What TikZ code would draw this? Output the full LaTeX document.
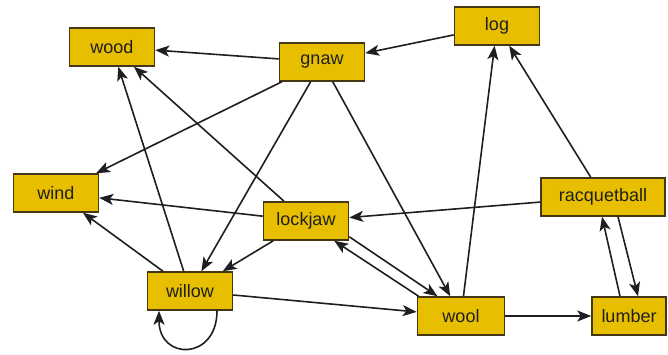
\documentclass[tikz,border=0pt]{standalone}
\usepackage{fontspec}
\setmainfont{Liberation Sans}
\usetikzlibrary{arrows.meta,calc}
\definecolor{boxfill}{RGB}{232,191,0}
\definecolor{boxline}{RGB}{70,55,20}
\definecolor{edgecol}{RGB}{30,30,35}
\tikzset{
  box/.style={draw=boxline,line width=1.5pt,fill=boxfill,rectangle,minimum height=38pt,
    minimum width=85pt,inner xsep=2pt,font=\fontsize{18}{20}\selectfont,text=black!88},
  edge/.style={draw=edgecol,line width=1.6pt,-{Stealth[length=14pt,width=11pt,inset=3.5pt]}},
}
\begin{document}
\begin{tikzpicture}[x=1pt,y=-1pt]
\useasboundingbox (0,0) rectangle (668,354);
\node[box] (wood) at (112,47) {wood};
\node[box] (gnaw) at (322,62) {gnaw};
\node[box] (log) at (497,26) {log};
\node[box] (wind) at (56,193) {wind};
\node[box] (lockjaw) at (306,221) {lockjaw};
\node[box,minimum width=124pt] (racq) at (603,197) {racquetball};
\node[box] (willow) at (190,291) {willow};
\node[box,minimum width=87pt] (wool) at (461,316) {wool};
\node[box,minimum width=74pt] (lumber) at (629,316) {lumber};

\draw[edge] (gnaw) -- (wood);
\draw[edge] (log) -- (gnaw);
\draw[edge] (gnaw) -- (wind);
\draw[edge] (gnaw) -- (willow);
\draw[edge] (gnaw) -- (wool);
\draw[edge] (willow) -- (wood);
\draw[edge] (lockjaw) -- (wood);
\draw[edge] (lockjaw) -- (wind);
\draw[edge] (willow) -- (wind);
\draw[edge] (lockjaw) -- (willow);
\draw[edge] (lockjaw.-20) -- (wool.140);
\draw[edge] (wool.155) -- (lockjaw.-35);
\draw[edge] (racq) -- (lockjaw);
\draw[edge] (racq) -- (log);
\draw[edge] (wool) -- (log);
\draw[edge] (willow) -- (wool);
\draw[edge] (wool) -- (lumber);
\draw[edge] ([xshift=-9pt]lumber.north) -- ([xshift=-1pt]racq.south);
\draw[edge] ([xshift=15pt]racq.south) -- ([xshift=9pt]lumber.north);
\draw[edge] ([xshift=27pt]willow.south) .. controls +(0,50) and +(0,50) .. ([xshift=-31pt]willow.south);
\end{tikzpicture}
\end{document}
